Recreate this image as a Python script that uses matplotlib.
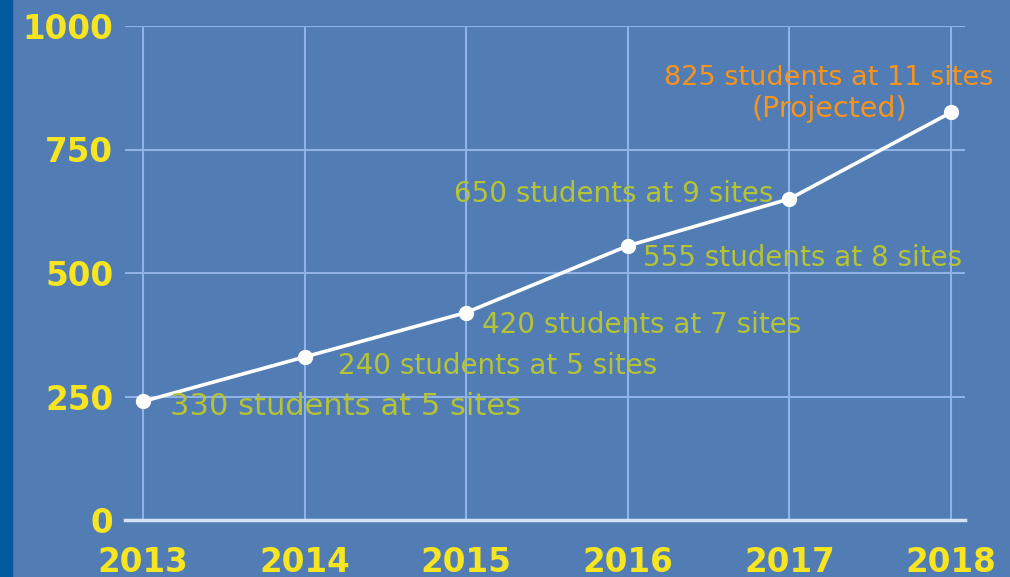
import matplotlib.pyplot as plt
from matplotlib.patches import Rectangle

# Enrollment by year
years = [2013, 2014, 2015, 2016, 2017, 2018]
students = [240, 330, 420, 555, 650, 825]
labels = ['330 students at 5 sites', '240 students at 5 sites', '420 students at 7 sites',
          '555 students at 8 sites', '650 students at 9 sites', '825 students at 11 sites']
yticks = [0, 250, 500, 750, 1000]

bg = '#517cb4'
yellow = '#f6e520'
green = '#b5c335'
orange = '#f7941d'

fig = plt.figure(figsize=(10.1, 5.77), dpi=100, facecolor=bg)
fig.patches.append(Rectangle((0, 0), 12 / 1010, 1, transform=fig.transFigure,
                             color='#03599d', zorder=0))
ax = fig.add_axes([125 / 1010, 57 / 577, 840 / 1010, 494 / 577])
ax.set_facecolor(bg)
ax.set_xlim(2013 - 18 / 161.6, 2018 + 14 / 161.6)
ax.set_ylim(0, 1000)
for s in ax.spines.values():
    s.set_visible(False)
ax.set_xticks(years)
ax.set_yticks(yticks)
ax.grid(color='#8fb3e6', lw=1.5)
ax.axhline(0, color='#d3e3f6', lw=2.5, clip_on=False, zorder=2)
ax.tick_params(length=0, labelcolor=yellow, labelsize=23.5)
ax.tick_params(axis='x', pad=19)
ax.tick_params(axis='y', pad=8.5)
for t in ax.get_xticklabels() + ax.get_yticklabels():
    t.set_fontweight('bold')

ax.plot(years, students, color='white', lw=2.6, marker='o', ms=10, zorder=4, clip_on=False)

# label offsets in pixels (left aligned unless noted)
sizes = [22, 20, 20, 20]
offs = [(27, -14), (33, -17), (16, -20), (15, -20)]
for i, (dx, dy) in enumerate(offs):
    ax.annotate(labels[i], (years[i], students[i]), xytext=(dx, dy), textcoords='offset pixels',
                ha='left', va='baseline', color=green, fontsize=sizes[i], zorder=5)
ax.annotate(labels[4], (years[4], students[4]), xytext=(-16, -3), textcoords='offset pixels',
            ha='right', va='baseline', color=green, fontsize=20, zorder=5)
ax.annotate(labels[5], (years[5], students[5]), xytext=(-122, 27), textcoords='offset pixels',
            ha='center', va='baseline', color=orange, fontsize=19.5, zorder=5)
ax.annotate('(Projected)', (years[5], students[5]), xytext=(-122, -5), textcoords='offset pixels',
            ha='center', va='baseline', color=orange, fontsize=20.5, zorder=5)

fig.savefig('out.png', dpi=100, facecolor=bg)
